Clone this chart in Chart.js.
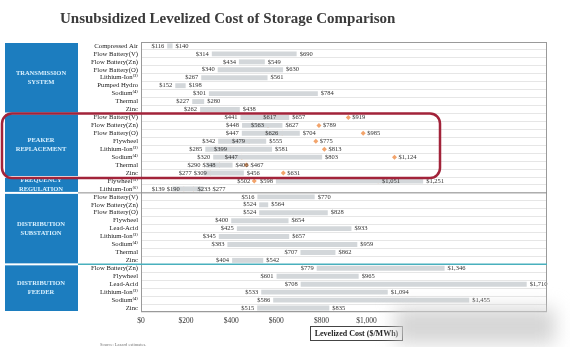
<!DOCTYPE html>
<html>
<head>
<meta charset="utf-8">
<script src="https://cdn.jsdelivr.net/npm/chart.js@4/dist/chart.umd.min.js"></script>
<style>
  html, body { margin: 0; padding: 0; background: #fff; }
  #wrap { width: 570px; height: 347px; }
</style>
</head>
<body>
<div id="wrap"><canvas id="grafico" width="570" height="347"></canvas></div>
<script>
// categorias (filas en orden de lectura)
var categorias = [
  "Compressed Air", "Flow Battery(V)", "Flow Battery(Zn)", "Flow Battery(O)", "Lithium-Ion\u207D\u00B3\u207E",
  "Pumped Hydro", "Sodium\u207D\u2074\u207E", "Thermal", "Zinc",
  "Flow Battery(V)", "Flow Battery(Zn)", "Flow Battery(O)", "Flywheel", "Lithium-Ion\u207D\u00B3\u207E",
  "Sodium\u207D\u2074\u207E", "Thermal", "Zinc",
  "Flywheel\u207D\u2075\u207E", "Lithium-Ion\u207D\u2076\u207E",
  "Flow Battery(V)", "Flow Battery(Zn)", "Flow Battery(O)", "Flywheel", "Lead-Acid",
  "Lithium-Ion\u207D\u00B3\u207E", "Sodium\u207D\u2074\u207E", "Thermal", "Zinc",
  "Flow Battery(Zn)", "Flywheel", "Lead-Acid", "Lithium-Ion\u207D\u00B3\u207E", "Sodium\u207D\u2074\u207E", "Zinc"
];

// rango de costo nivelado ($/MWh)
var costoBajo = [116, 314, 434, 340, 267, 152, 301, 227, 262,
                 441, 448, 447, 342, 285, 320, 290, 277,
                 598, 139,
                 516, 524, 524, 400, 425, 345, 383, 707, 404,
                 779, 601, 708, 533, 586, 515];
var costoAlto = [140, 690, 549, 630, 561, 198, 784, 280, 438,
                 657, 627, 704, 555, 581, 803, 406, 456,
                 1251, 277,
                 770, 564, 828, 654, 933, 657, 959, 862, 542,
                 1346, 965, 1710, 1094, 1455, 835];

// marcadores (rombos)
var marcaBaja = [null, null, null, null, null, null, null, null, null,
                 617, 563, 626, 479, 399, 447, 348, 309,
                 502, 190,
                 null, null, null, null, null, null, null, null, null,
                 null, null, null, null, null, null];
var marcaAlta = [null, null, null, null, null, null, null, null, null,
                 919, 789, 985, 775, 813, 1124, 467, 631,
                 1051, 233,
                 null, null, null, null, null, null, null, null, null,
                 null, null, null, null, null, null];

var ticksX = [0, 200, 400, 600, 800, 1000];

var grupos = [
  { nombre: ["TRANSMISSION", "SYSTEM"], desde: 0, hasta: 8 },
  { nombre: ["PEAKER", "REPLACEMENT"], desde: 9, hasta: 16 },
  { nombre: ["FREQUENCY", "REGULATION"], desde: 17, hasta: 18 },
  { nombre: ["DISTRIBUTION", "SUBSTATION"], desde: 19, hasta: 27 },
  { nombre: ["DISTRIBUTION", "FEEDER"], desde: 28, hasta: 33 }
];

var serif = "'Liberation Serif', 'DejaVu Serif', serif";

function dinero(v) {
  return "$" + v.toLocaleString("en-US");
}

// mismo largo que categorias: el indice del dato es la fila
function puntos(arr) {
  return arr.map(function (v, i) { return { x: v, y: i }; });
}

var pluginExtras = {
  id: "extras",
  beforeDraw: function (chart) {
    var ctx = chart.ctx;
    var ys = chart.scales.y;
    var paso = ys.getPixelForValue(1) - ys.getPixelForValue(0);
    ctx.save();
    // titulo
    ctx.fillStyle = "#3b3b3b";
    ctx.font = "bold 15px " + serif;
    ctx.textBaseline = "middle";
    ctx.fillText("Unsubsidized Levelized Cost of Storage Comparison", 60, 19);
    // cajas de grupos
    grupos.forEach(function (g) {
      var top = ys.getPixelForValue(g.desde) - paso / 2 + 1;
      var bot = ys.getPixelForValue(g.hasta) + paso / 2 - 1;
      ctx.fillStyle = "#1c7dbf";
      ctx.fillRect(5, top, 73, bot - top);
      ctx.fillStyle = "#d9f1ff";
      ctx.font = "bold 6.5px " + serif;
      ctx.textAlign = "center";
      var cy = (top + bot) / 2;
      ctx.fillText(g.nombre[0], 41, cy - 4.5);
      ctx.fillText(g.nombre[1], 41, cy + 4.5);
    });
    ctx.restore();
  },
  afterDatasetsDraw: function (chart) {
    var ctx = chart.ctx;
    ctx.save();
    ctx.font = "6.5px " + serif;
    ctx.fillStyle = "#333";
    ctx.textBaseline = "middle";
    ctx.textAlign = "left";
    var barras = chart.getDatasetMeta(0).data;
    var rombosB = chart.getDatasetMeta(1).data;
    var rombosA = chart.getDatasetMeta(2).data;
    barras.forEach(function (b, i) {
      var izq = Math.min(b.x, b.base), der = Math.max(b.x, b.base);
      var tB = dinero(costoBajo[i]), tA = dinero(costoAlto[i]);
      var wB = ctx.measureText(tB).width, wA = ctx.measureText(tA).width;
      var finB = izq - 3;
      var items = [{ t: tA, x: der + 3, w: wA }];
      if (marcaBaja[i] !== null) {
        var tm = dinero(marcaBaja[i]);
        var wm = ctx.measureText(tm).width;
        var xm = rombosB[i].x - 4 - wm;
        ctx.fillText(tm, xm, b.y);
        // si el rombo cae dentro de la barra, la etiqueta baja se corre a la izquierda
        if (marcaBaja[i] >= costoBajo[i]) finB = Math.min(finB, xm - 2);
      }
      if (marcaAlta[i] !== null) {
        var tn = dinero(marcaAlta[i]);
        items.push({ t: tn, x: rombosA[i].x + 4, w: ctx.measureText(tn).width });
      }
      ctx.fillText(tB, finB - wB, b.y);
      items.sort(function (a, c) { return a.x - c.x; });
      for (var k = 1; k < items.length; k++) {
        items[k].x = Math.max(items[k].x, items[k - 1].x + items[k - 1].w + 2);
      }
      items.forEach(function (it) { ctx.fillText(it.t, it.x, b.y); });
    });
    ctx.restore();
  },
  afterDraw: function (chart) {
    var ctx = chart.ctx;
    var ys = chart.scales.y;
    var area = chart.chartArea;
    var paso = ys.getPixelForValue(1) - ys.getPixelForValue(0);
    function borde(i) { return ys.getPixelForValue(i) + paso / 2; }
    ctx.save();
    // marco del grafico
    ctx.strokeStyle = "#9a9a9a";
    ctx.lineWidth = 1;
    ctx.strokeRect(area.left + 0.5, area.top + 0.5, area.right - area.left - 1, area.bottom - area.top - 1);
    // separadores
    ctx.strokeStyle = "#8c8c8c";
    ctx.beginPath();
    ctx.moveTo(78, borde(18));
    ctx.lineTo(area.right, borde(18));
    ctx.stroke();
    ctx.strokeStyle = "#49b0bd";
    ctx.lineWidth = 1.5;
    ctx.beginPath();
    ctx.moveTo(78, borde(27));
    ctx.lineTo(area.right, borde(27));
    ctx.stroke();
    // recuadro rojo
    var t = borde(8), bt = borde(16) + 1;
    ctx.strokeStyle = "#a2233a";
    ctx.lineWidth = 2.5;
    ctx.beginPath();
    ctx.roundRect(2, t, 438, bt - t, 10);
    ctx.stroke();
    // titulo eje x
    ctx.lineWidth = 1;
    ctx.strokeStyle = "#444";
    ctx.strokeRect(310.5, 326.5, 92, 14);
    ctx.fillStyle = "#222";
    ctx.font = "bold 8px " + serif;
    ctx.textAlign = "center";
    ctx.textBaseline = "middle";
    ctx.fillText("Levelized Cost ($/MWh)", 356.5, 334);
    // fuente
    ctx.font = "4.5px " + serif;
    ctx.fillStyle = "#777";
    ctx.textAlign = "left";
    ctx.fillText("Source: Lazard estimates.", 100, 345);
    // mancha borrosa
    ctx.filter = "blur(9px)";
    ctx.fillStyle = "rgba(210,210,210,0.9)";
    ctx.fillRect(395, 308, 160, 36);
    ctx.filter = "none";
    ctx.restore();
  }
};

var ctx = document.getElementById("grafico").getContext("2d");
var myChart = new Chart(ctx, {
  type: "bar",
  data: {
    labels: categorias,
    datasets: [
      {
        data: costoBajo.map(function (v, i) { return [v, costoAlto[i]]; }),
        backgroundColor: "#d3d7da",
        barPercentage: 0.62,
        categoryPercentage: 1,
        borderWidth: 0
      },
      {
        type: "scatter",
        data: puntos(marcaBaja),
        pointStyle: "rectRot",
        radius: 2.5,
        backgroundColor: "#f2a46c",
        borderWidth: 0
      },
      {
        type: "scatter",
        data: puntos(marcaAlta),
        pointStyle: "rectRot",
        radius: 2.5,
        backgroundColor: "#f2a46c",
        borderWidth: 0
      }
    ]
  },
  options: {
    indexAxis: "y",
    responsive: false,
    animation: false,
    devicePixelRatio: 1,
    layout: { padding: { left: 6, right: 23, top: 42, bottom: 0 } },
    plugins: { legend: { display: false }, tooltip: { enabled: false } },
    scales: {
      x: {
        type: "linear",
        min: 0,
        max: 1800,
        afterBuildTicks: function (scale) {
          scale.ticks = ticksX.map(function (v) { return { value: v }; });
        },
        afterFit: function (scale) { scale.height = 35; },
        ticks: {
          callback: function (v) { return dinero(v); },
          font: { family: serif, size: 7.5 },
          color: "#333",
          padding: 5,
          maxRotation: 0
        },
        grid: { display: false, drawTicks: false },
        border: { display: false }
      },
      y: {
        type: "category",
        afterFit: function (scale) { scale.width = 135; },
        ticks: {
          font: { family: serif, size: 6.7 },
          color: "#222",
          padding: 3,
          autoSkip: false
        },
        grid: { color: "#e6e6e6", offset: true, drawTicks: false },
        border: { display: false }
      }
    }
  },
  plugins: [pluginExtras]
});
</script>
</body>
</html>
